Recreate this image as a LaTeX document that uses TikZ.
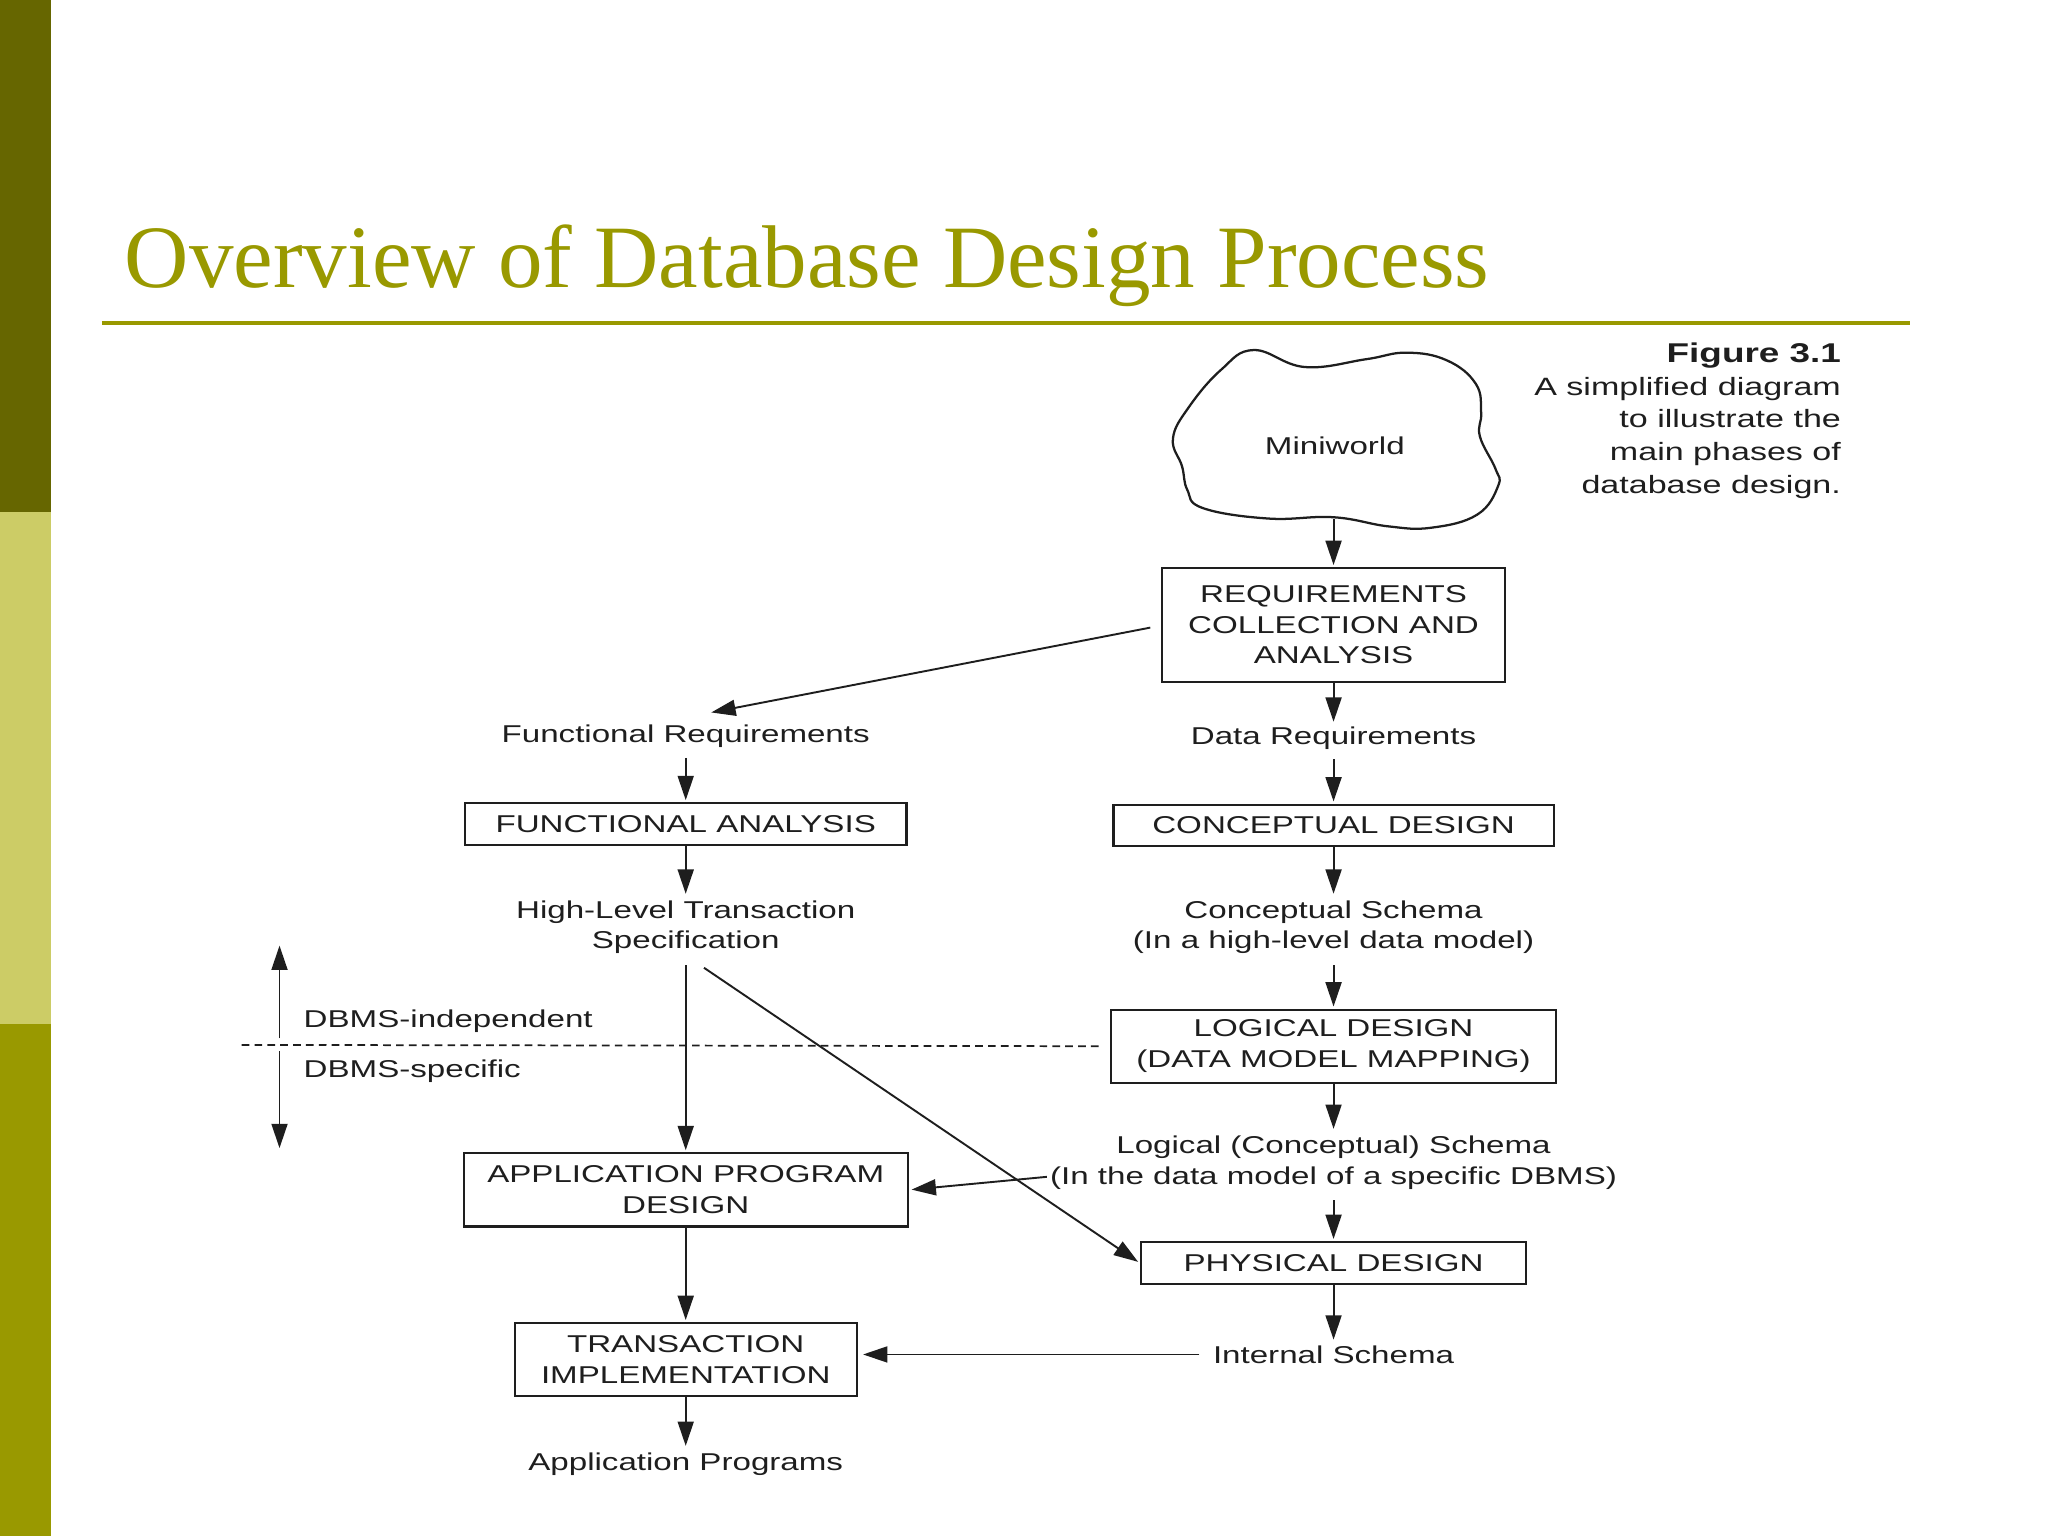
\documentclass[tikz,border=0pt]{standalone}
\usepackage{fontspec}
\setmainfont{Liberation Serif}
\newfontfamily\diagfont[FakeStretch=1.36]{Liberation Sans}
\usetikzlibrary{arrows.meta,calc}
\definecolor{olivedark}{HTML}{666600}
\definecolor{olivelight}{HTML}{CCCC66}
\definecolor{olivemid}{HTML}{999900}
\definecolor{ink}{HTML}{1E1E1E}
\begin{document}
\begin{tikzpicture}[x=0.013196cm,y=-0.013196cm,
  every node/.style={font=\diagfont\fontsize{7}{8.8}\selectfont, text=ink},
  bx/.style n args={2}{draw=ink, line width=0.6pt, align=center, inner sep=0pt,
     minimum width=#1*0.013196cm, minimum height=#2*0.013196cm},
  lbl/.style={align=center, inner sep=0pt},
  arr/.style={draw=ink, line width=0.55pt, -{Triangle[length=7pt,width=4.6pt]}, shorten >=0.6pt},
]
\useasboundingbox (0,0) rectangle (1568,1176);
% side bar
\fill[olivedark] (0,0) rectangle (39,392);
\fill[olivelight] (0,392) rectangle (39,784);
\fill[olivemid] (0,784) rectangle (39,1176);
% title
\node[anchor=base west, inner sep=0pt, text=olivemid, font=\fontsize{25.6}{30}\selectfont] (title) at (95,220) {Overview of Database Design Process};
\coordinate (ulL) at (78,247);
\coordinate (ulR) at (1462,247);
\draw[olivemid, line width=1.1pt] (ulL) -- (ulR);

% cloud
\draw[ink, line width=0.65pt] plot[smooth cycle, tension=0.7] coordinates {
 (960,268) (999,281) (1046,275) (1077,270) (1108,276) (1130,294) (1134,316)
 (1133,334) (1145,359) (1147,372) (1131,394) (1096,404) (1063,403) (1021,396)
 (971,397) (921,389) (909,375) (905,357) (898,336) (910,312) (935,283)};
\node (mini) at (1022,341) {Miniworld};
\coordinate (cloudbot) at (1021,397);

% caption
\node[anchor=north east, align=right, inner sep=0pt, font=\diagfont\fontsize{7.2}{9.4}\selectfont] (cap) at (1410,262)
 {{\bfseries\fontsize{7.8}{9.4}\selectfont Figure 3.1}\\A simplified diagram\\to illustrate the\\main phases of\\database design.};

% boxes
\node[bx={263}{87}] (req) at (1021,478.5) {REQUIREMENTS\\COLLECTION AND\\ANALYSIS};
\node[bx={338}{32}] (fa) at (525,631) {FUNCTIONAL ANALYSIS};
\node[bx={337}{32}] (cd) at (1021,632) {CONCEPTUAL DESIGN};
\node[bx={341}{56}] (ld) at (1021,801) {LOGICAL DESIGN\\(DATA MODEL MAPPING)};
\node[bx={340}{56}] (apd) at (525,911) {APPLICATION PROGRAM\\DESIGN};
\node[bx={295}{32}] (pd) at (1021,967) {PHYSICAL DESIGN};
\node[bx={262}{56}] (ti) at (525,1041) {TRANSACTION\\IMPLEMENTATION};

% labels
\node[lbl] (freq) at (525,564) {Functional Requirements};
\node[lbl] (dreq) at (1021,565) {Data Requirements};
\node[lbl] (hlts) at (525,710) {High-Level Transaction\\Specification};
\node[lbl] (cs) at (1021,710) {Conceptual Schema\\(In a high-level data model)};
\node[lbl] (lcs) at (1021,890) {Logical (Conceptual) Schema\\(In the data model of a specific DBMS)};
\node[lbl] (is) at (1021,1037) {Internal Schema};
\node[lbl] (ap) at (525,1121) {Application Programs};
\node[lbl, anchor=west] (dbi) at (232,782) {DBMS-independent};
\node[lbl, anchor=west] (dbs) at (232,820) {DBMS-specific};

% dbms divider
\coordinate (dashL) at (185,800);
\draw[ink, line width=0.5pt, dash pattern=on 2.2pt off 1.5pt] (dashL) -- ($(ld.west)+(-6,0)$);
\coordinate (upS) at (214,795);
\coordinate (upE) at (214,724);
\coordinate (dnS) at (214,805);
\coordinate (dnE) at (214,879);
\draw[arr, shorten >=0pt] (upS) -- (upE);
\draw[arr, shorten >=0pt] (dnS) -- (dnE);

% right column
\draw[arr] (cloudbot) -- (req.north);
\draw[arr, shorten >=1.2pt] (req.south) -- (dreq.north);
\draw[arr, shorten <=2.6pt] (dreq.south) -- (cd.north);
\draw[arr, shorten >=1.8pt] (cd.south) -- (cs.north);
\draw[arr, shorten <=3pt] (cs.south) -- (ld.north);
\draw[arr, shorten >=1.8pt] (ld.south) -- (lcs.north);
\draw[arr, shorten <=3pt] (lcs.south) -- (pd.north);
\draw[arr, shorten >=1.5pt] (pd.south) -- (is.north);

% left column
\draw[arr] ($(req.west)+(-8,2)$) -- ($(freq.north)+(18,-9)$);
\draw[arr, shorten <=2.6pt] (freq.south) -- (fa.north);
\draw[arr, shorten >=1.8pt] (fa.south) -- (hlts.north);
\draw[arr, shorten <=3pt] (hlts.south) -- (apd.north);
\draw[arr] (apd.south) -- (ti.north);
\draw[arr, shorten >=1.8pt] (ti.south) -- (ap.north);

% cross connectors
\draw[arr] ($(hlts.south)+(14,10)$) -- (pd.west);
\draw[arr, shorten >=0.8pt] ($(lcs.west)+(-2,11)$) -- (apd.east);
\draw[arr, shorten >=1.5pt] ($(is.west)+(-10,0)$) -- (is.west -| ti.east);
\end{tikzpicture}
\end{document}
